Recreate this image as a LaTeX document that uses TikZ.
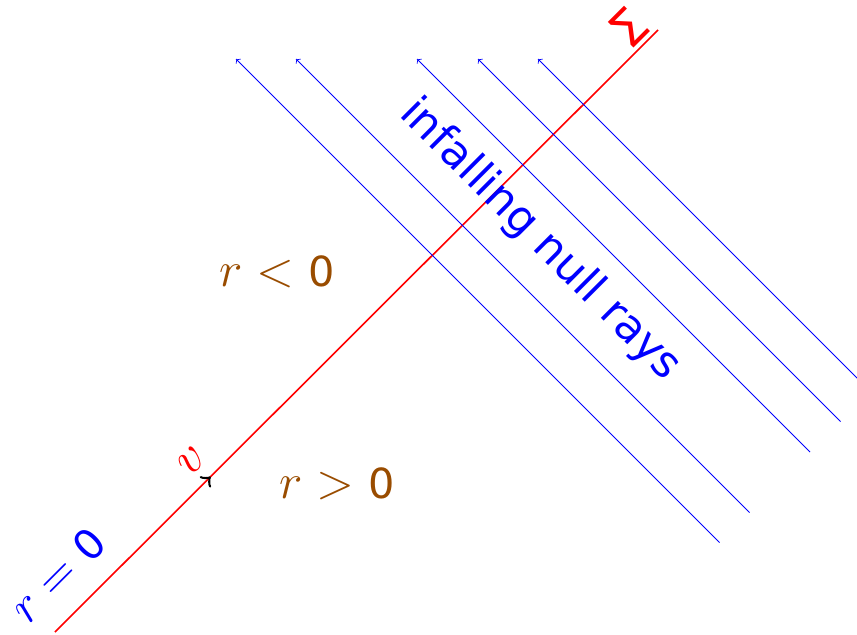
\documentclass[tikz,border=0pt]{standalone}
\usepackage{fontspec}
\setmainfont{DejaVu Sans}
\usetikzlibrary{decorations.markings}
\newcommand{\digit}[1]{\hbox{\fontsize{20.74}{25}\selectfont #1}}

\begin{document}
\begin{tikzpicture}[x=0.5pt,y=0.5pt,
  ray/.style={blue,->},
  lbl/.style={font=\fontsize{24.88}{30}\selectfont,inner sep=0pt},
  region/.style={lbl,text=orange!60!black}]
\clip (0,0) rectangle (857,634);
\coordinate (centre) at (55,2);
\coordinate (scri) at (658,604);
\draw[red,thick,postaction={decorate},
   decoration={markings,mark=at position 0.258 with {\arrow[black,scale=1.6]{>}}}]
   (centre) -- (scri);
% infalling rays, the middle one is left out for the label
\foreach \s in {236,296,417,478,538} {
   \draw[ray] ({(1203+\s)/2},{(1203+\s)/2-628}) -- (\s,575);
}
\node[lbl,text=red,rotate=45] (sigma) at (629,606) {Σ};
\node[lbl,text=red,rotate=45] (vlabel) at (192,173) {$v$};
\node[lbl,text=blue,rotate=45] (rzero) at (58,59) {$r=\digit{0}$};
\node[region] (rneg) at (277,362) {$r<\digit{0}$};
\node[region] (rpos) at (337,150) {$r>\digit{0}$};
\node[lbl,font=\fontsize{22}{26}\selectfont,text=blue,rotate=-45] (rays) at (540,394) {infalling null rays};
\end{tikzpicture}
\end{document}
